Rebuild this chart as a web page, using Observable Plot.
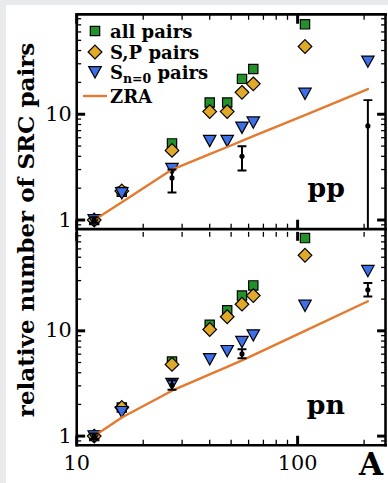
<!DOCTYPE html>
<html>
<head>
<meta charset="utf-8">
<script src="https://cdn.jsdelivr.net/npm/d3@7"></script>
<script src="https://cdn.jsdelivr.net/npm/@observablehq/plot@0.6"></script>
<style>
html,body{margin:0;padding:0;background:#e9eaec;overflow:hidden;}
#wrap{position:relative;width:388px;height:483px;overflow:hidden;}
#paper{position:absolute;left:6px;top:5px;width:400px;height:500px;background:#fff;}
.panel{position:absolute;left:0;}
#ylab{position:absolute;left:-186px;top:218px;width:420px;height:24px;line-height:24px;text-align:center;
  transform:rotate(-90deg);transform-origin:50% 50%;font:bold 23px "DejaVu Serif";color:#000;white-space:nowrap;}
.leg{position:absolute;left:85px;height:20px;display:flex;align-items:center;font:bold 18px "DejaVu Serif";color:#000;white-space:nowrap;}
.leg svg{width:20px;height:20px;margin-right:5px;flex:none;}
.leg sub{font-size:12.5px;vertical-align:-4px;line-height:0;}
#alab{position:absolute;left:359px;top:449px;font:bold 31px "DejaVu Serif";line-height:31px;color:#000;}
</style>
</head>
<body>
<div id="wrap">
  <div id="paper"></div>
  <div id="top" class="panel" style="top:0px"></div>
  <div id="bot" class="panel" style="top:221px"></div>
  <div id="ylab">relative number of SRC pairs</div>
  <div id="legend"></div>
  <div id="alab">A</div>
</div>
<script>
// ---- data ----
const A = [12, 16, 27, 40, 48, 56, 63, 108, 208];
const ppAll = [1.0, 1.85, 5.3, 12.9, 12.9, 21.6, 26.8, 70.8, null];
const ppSP  = [1.0, 1.88, 4.55, 10.6, 10.6, 16.1, 19.4, 43.7, null];
const ppS0  = [1.0, 1.8, 3.05, 5.62, 5.62, 7.5, 8.4, 15.7, 31.6];
const ppZRA = [1.0, 1.47, 3.0, 4.2, 4.9, 5.6, 6.2, 9.8, 17.3];
const pnAll = [1.0, 1.87, 5.1, 11.4, 15.7, 21.6, 27.0, 76.0, null];
const pnSP  = [1.0, 1.87, 4.8, 10.3, 13.6, 17.9, 21.6, 52.2, null];
const pnS0  = [1.0, 1.7, 3.15, 5.4, 6.45, 7.87, 9.1, 17.4, 37.2];
const pnZRA = [1.0, 1.5, 2.7, 3.86, 4.55, 5.23, 5.87, 10.0, 19.1];
const errA  = [12, 27, 56, 208];
const ppExp = [1.0, 2.5, 4.0, 7.76];
const ppLo  = [0.94, 1.82, 2.94, 0.5];
const ppHi  = [1.06, 3.0, 4.98, 13.6];
const pnExp = [1.0, 3.05, 6.04, 24.5];
const pnLo  = [0.94, 2.75, 5.5, 21.2];
const pnHi  = [1.06, 3.4, 6.7, 28.4];
const xMajor = [10, 100];
const xMinor = [20, 30, 40, 50, 60, 70, 80, 90, 200];
const yMajor = [1, 10];
const yMinor = [0.9, 2, 3, 4, 5, 6, 7, 8, 9, 20, 30, 40, 50, 60, 70, 80];
const legendLabels = ["all pairs", "S,P pairs", "S<sub>n=0</sub> pairs", "ZRA"];

const GREEN = "#22912a", GOLD = "#e1a929", BLUE = "#3f6fe6", ORANGE = "#e37a2e";
const FONT = "DejaVu Serif";

const capSym = {draw(c){ c.moveTo(-4.5,0); c.lineTo(4.5,0); }};
const sqSym = {draw(c){ c.moveTo(-4.7,-4.7); c.lineTo(4.7,-4.7); c.lineTo(4.7,4.7); c.lineTo(-4.7,4.7); c.closePath(); }};
const diaSym = {draw(c){ c.moveTo(0,-6.9); c.lineTo(6.9,0); c.lineTo(0,6.9); c.lineTo(-6.9,0); c.closePath(); }};
const triSym = {draw(c){ c.moveTo(-6.3,-5.4); c.lineTo(6.3,-5.4); c.lineTo(0,6); c.closePath(); }};

function tickAxes(isBottomPanel) {
  const none = () => "";
  const m = [];
  for (const anchor of ["left", "right"]) {
    m.push(Plot.axisY(yMinor, {anchor, tickSize: -5, strokeWidth: 1.3, tickFormat: none, label: null}));
    m.push(Plot.axisY(yMajor, {anchor, tickSize: -9, strokeWidth: 3, tickFormat: none, label: null}));
  }
  for (const anchor of ["top", "bottom"]) {
    m.push(Plot.axisX(xMinor, {anchor, tickSize: -5, strokeWidth: 1.3, tickFormat: none, label: null}));
    m.push(Plot.axisX(xMajor, {anchor, tickSize: -9, strokeWidth: 3, tickFormat: none, label: null}));
  }
  m.push(Plot.axisY(yMajor, {anchor: "left", tickSize: 0, tickPadding: 5, fontSize: 21, fontFamily: FONT, fill: "black", label: null, tickFormat: d => String(d)}));
  if (isBottomPanel) {
    m.push(Plot.axisX(xMajor, {anchor: "bottom", tickSize: 0, tickPadding: 10, fontSize: 21, fontFamily: FONT, fill: "black", label: null, tickFormat: d => String(d)}));
  }
  return m;
}

function frames(isBottomPanel) {
  const o = {stroke: "black", strokeWidth: 2.6};
  const sides = isBottomPanel ? ["left", "right", "bottom"] : ["left", "right", "bottom", "top"];
  return sides.map(anchor => Plot.frame({...o, anchor}));
}

function panel({all, sp, s0, zra, exp, lo, hi, name, height, marginTop, marginBottom, bottom}) {
  const rows = A.map((a, i) => ({A: a, all: all[i], sp: sp[i], s0: s0[i], zra: zra[i]}));
  const errs = errA.map((a, i) => ({A: a, v: exp[i], lo: lo[i], hi: hi[i]}));
  return Plot.plot({
    width: 392, height, marginLeft: 77, marginRight: 3, marginTop, marginBottom,
    style: "background:transparent;overflow:visible;",
    x: {type: "log", domain: [10, 250]},
    y: {type: "log", domain: [0.82, 88]},
    marks: [
      Plot.dot(rows.filter(d => d.all != null), {x: "A", y: "all", symbol: sqSym, fill: GREEN, stroke: "black", strokeWidth: 1.2}),
      Plot.dot(rows.filter(d => d.sp != null), {x: "A", y: "sp", symbol: diaSym, fill: GOLD, stroke: "black", strokeWidth: 1.2}),
      Plot.dot(rows.filter(d => d.s0 != null), {x: "A", y: "s0", symbol: triSym, fill: BLUE, stroke: "black", strokeWidth: 1.2}),
      Plot.line(rows, {x: "A", y: "zra", stroke: ORANGE, strokeWidth: 2.4}),
      Plot.ruleX(errs, {x: "A", y1: "lo", y2: "hi", stroke: "black", strokeWidth: 2, clip: true}),
      Plot.dot(errs, {x: "A", y: "lo", symbol: capSym, fill: "none", stroke: "black", strokeWidth: 2, clip: true}),
      Plot.dot(errs, {x: "A", y: "hi", symbol: capSym, fill: "none", stroke: "black", strokeWidth: 2, clip: true}),
      Plot.dot(errs, {x: "A", y: "v", r: 2.6, fill: "black", stroke: "none"}),
      ...frames(bottom),
      ...tickAxes(bottom),
      Plot.text([name], {frameAnchor: "bottom-right", text: d => d, dx: -41, dy: -32, textAnchor: "end", lineAnchor: "bottom", fontSize: 27, fontWeight: "bold", fontFamily: FONT, fill: "black"})
    ]
  });
}

document.getElementById("top").append(panel({
  all: ppAll, sp: ppSP, s0: ppS0, zra: ppZRA, exp: ppExp, lo: ppLo, hi: ppHi, name: "pp",
  height: 240, marginTop: 14, marginBottom: 9, bottom: false
}));
document.getElementById("bot").append(panel({
  all: pnAll, sp: pnSP, s0: pnS0, zra: pnZRA, exp: pnExp, lo: pnLo, hi: pnHi, name: "pn",
  height: 262, marginTop: 10, marginBottom: 36, bottom: true
}));

// legend
const legSyms = [
  `<path d="M5.3,5.3H14.7V14.7H5.3Z" fill="${GREEN}" stroke="black" stroke-width="1.2"/>`,
  `<path d="M10,3.1L16.9,10L10,16.9L3.1,10Z" fill="${GOLD}" stroke="black" stroke-width="1.2"/>`,
  `<path d="M3.7,4.6H16.3L10,16Z" fill="${BLUE}" stroke="black" stroke-width="1.2"/>`,
  `<path d="M-2,10H22" stroke="${ORANGE}" stroke-width="2.4"/>`
];
const legY = [31, 52, 72, 96];
const leg = document.getElementById("legend");
legendLabels.forEach((lab, i) => {
  const d = document.createElement("div");
  d.className = "leg";
  d.style.top = (legY[i] - 10) + "px";
  d.innerHTML = `<svg viewBox="0 0 20 20" style="overflow:visible">${legSyms[i]}</svg><span>${lab}</span>`;
  leg.append(d);
});
</script>
</body>
</html>
